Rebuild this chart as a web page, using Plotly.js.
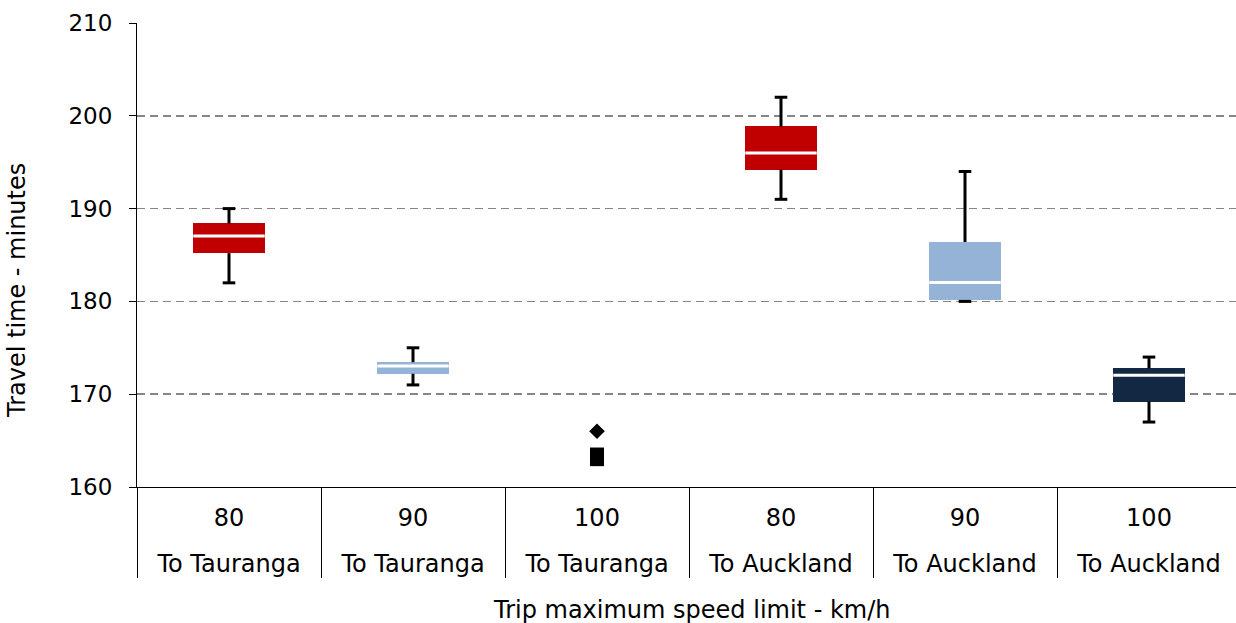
<!DOCTYPE html>
<html>
<head>
<meta charset="utf-8">
<script src="https://cdn.plot.ly/plotly-3.0.1.min.js"></script>
<style>html,body{margin:0;padding:0;background:#fff;}#chart{width:1236px;height:623px;}</style>
</head>
<body>
<div id="chart"></div>
<script>
// ---- data ----
const speedLabels = ['80', '90', '100', '80', '90', '100'];
const destinationLabels = ['To Tauranga', 'To Tauranga', 'To Tauranga', 'To Auckland', 'To Auckland', 'To Auckland'];
const minValues    = [182,    171,    null, 191,    180,    167];
const q1Values     = [185.2,  172.2,  null, 194.2,  180.15, 169.2];
const medianValues = [187.05, 173.05, null, 196.0,  182.05, 172.05];
const q3Values     = [188.4,  173.45, null, 198.85, 186.4,  172.8];
const maxValues    = [190,    175,    null, 202,    194,    174];
// individual points shown for "100 To Tauranga"
const pointCategoryIndex = [2, 2, 2];
const pointValues = [166, 163.5, 163.0];

// ---- styles ----
const boxColors = ['#C00000', '#95B3D7', '#95B3D7', '#C00000', '#95B3D7', '#132843'];
const pointSymbols = ['diamond', 'square', 'square'];
const pointSizes = [12, 14, 14];
const FONT = 'DejaVu Sans, Verdana, sans-serif';

const idx = speedLabels.map((_, i) => i);
const has = i => q1Values[i] !== null;

const boxTrace = {
  type: 'bar', xaxis: 'x', yaxis: 'y',
  x: idx,
  base: q1Values,
  y: idx.map(i => has(i) ? q3Values[i] - q1Values[i] : null),
  width: 0.386,
  marker: {color: boxColors, line: {width: 0}},
  hoverinfo: 'skip'
};

const wx = [], wy = [];
idx.forEach(i => {
  if (!has(i)) return;
  wx.push(i, i, null, i, i, null);
  wy.push(q3Values[i], maxValues[i], null, q1Values[i], minValues[i], null);
});
const whiskerTrace = {
  type: 'scatter', mode: 'lines', x: wx, y: wy,
  line: {color: '#000', width: 3}, hoverinfo: 'skip', connectgaps: false
};

const cx = [], cy = [];
idx.forEach(i => { if (has(i)) { cx.push(i, i); cy.push(maxValues[i], minValues[i]); } });
const capTrace = {
  type: 'scatter', mode: 'markers', x: cx, y: cy,
  marker: {symbol: 'line-ew', size: 9, opacity: 1, line: {color: '#000', width: 3}},
  hoverinfo: 'skip'
};

const medianTrace = {
  type: 'scatter', mode: 'markers',
  x: idx.filter(has), y: idx.filter(has).map(i => medianValues[i]),
  marker: {symbol: 'line-ew', size: 51, opacity: 1, line: {color: '#fff', width: 3}},
  hoverinfo: 'skip'
};

const pointTrace = {
  type: 'scatter', mode: 'markers',
  x: pointCategoryIndex, y: pointValues,
  marker: {symbol: pointSymbols, size: pointSizes, opacity: 1, color: '#000', line: {width: 0}},
  hoverinfo: 'skip'
};

// invisible carrier traces so the label axes (x2, x3) are drawn
const labelCarrier2 = {type: 'scatter', mode: 'markers', xaxis: 'x2', yaxis: 'y',
  x: idx.filter(has), y: idx.filter(has).map(i => medianValues[i]),
  marker: {opacity: 0, size: 1}, hoverinfo: 'skip'};
const labelCarrier3 = {type: 'scatter', mode: 'markers', xaxis: 'x3', yaxis: 'y',
  x: idx.filter(has), y: idx.filter(has).map(i => medianValues[i]),
  marker: {opacity: 0, size: 1}, hoverinfo: 'skip'};

const xRange = [-0.5, -0.5 + 1099 / 184];
const boundaries = [];
for (let k = 0; k < speedLabels.length; k++) boundaries.push(k - 0.5);

const layout = {
  width: 1236, height: 623,
  margin: {l: 137, r: 0, t: 23, b: 136, pad: 0},
  paper_bgcolor: '#fff', plot_bgcolor: '#fff',
  showlegend: false, hovermode: false,
  font: {family: FONT, size: 23, color: '#000'},
  bargap: 0,
  xaxis: {
    range: xRange, tickmode: 'array', tickvals: boundaries, ticktext: boundaries.map(() => ''),
    showticklabels: false, ticks: 'outside', ticklen: 90, tickwidth: 1, tickcolor: '#000',
    showline: true, linecolor: '#000', linewidth: 1, showgrid: false, zeroline: false, fixedrange: true
  },
  xaxis2: {
    overlaying: 'x', anchor: 'y', side: 'bottom', range: xRange,
    tickmode: 'array', tickvals: idx, ticktext: speedLabels,
    ticks: 'outside', ticklen: 9, tickcolor: 'rgba(0,0,0,0)',
    showline: false, showgrid: false, zeroline: false, fixedrange: true,
    tickfont: {family: FONT, size: 24, color: '#000'}
  },
  xaxis3: {
    overlaying: 'x', anchor: 'y', side: 'bottom', range: xRange,
    tickmode: 'array', tickvals: idx, ticktext: destinationLabels,
    ticks: 'outside', ticklen: 55, tickcolor: 'rgba(0,0,0,0)',
    showline: false, showgrid: false, zeroline: false, fixedrange: true,
    tickfont: {family: FONT, size: 24, color: '#000'}
  },
  yaxis: {
    range: [160, 210], tickmode: 'array', tickvals: [160, 170, 180, 190, 200, 210],
    ticks: 'outside', ticklen: 7, tickwidth: 1, tickcolor: '#000',
    showline: true, linecolor: '#000', linewidth: 1,
    showgrid: true, gridcolor: '#868686', gridwidth: 1.6, griddash: '8px,5px',
    zeroline: false, fixedrange: true, ticklabelstandoff: 12,
    tickfont: {family: FONT, size: 23, color: '#000'}
  },
  annotations: [
    {text: 'Travel time - minutes', xref: 'paper', yref: 'paper',
     x: (17 - 137) / 1099, y: (487 - 291) / 464, xanchor: 'center', yanchor: 'middle',
     textangle: -90, showarrow: false, font: {family: FONT, size: 24, color: '#000'}},
    {text: 'Trip maximum speed limit - km/h', xref: 'paper', yref: 'paper',
     x: (692 - 137) / 1099, y: (487 - 610) / 464, xanchor: 'center', yanchor: 'middle',
     showarrow: false, font: {family: FONT, size: 24, color: '#000'}}
  ]
};

Plotly.newPlot('chart',
  [boxTrace, whiskerTrace, capTrace, medianTrace, pointTrace, labelCarrier2, labelCarrier3],
  layout, {staticPlot: true, displayModeBar: false});
</script>
</body>
</html>
